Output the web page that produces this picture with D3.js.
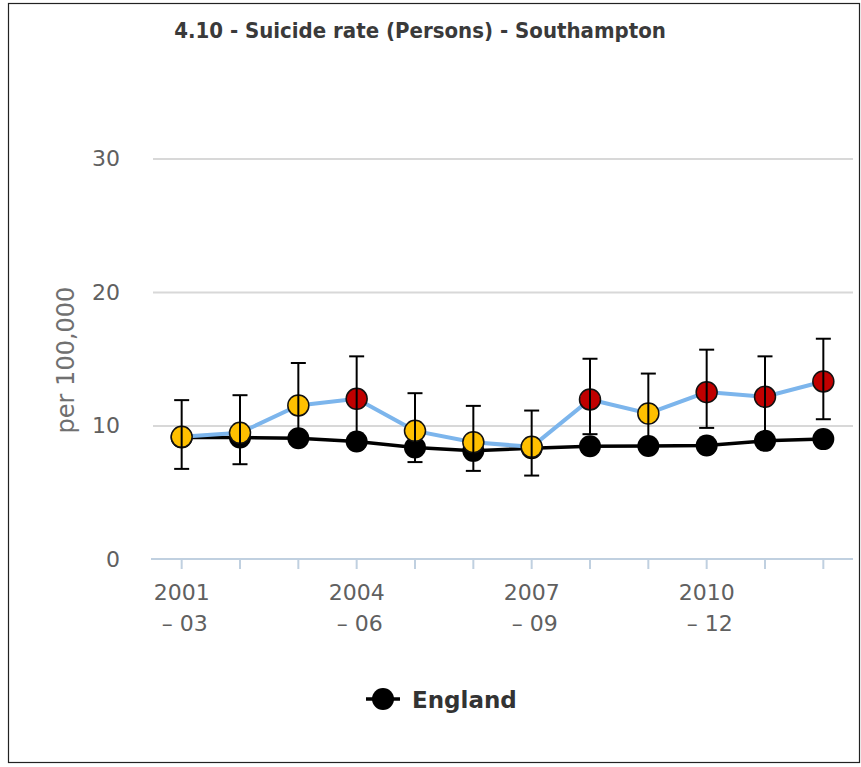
<!DOCTYPE html>
<html>
<head>
<meta charset="utf-8">
<script src="https://cdn.jsdelivr.net/npm/d3@7/dist/d3.min.js"></script>
<style>
  html, body { margin: 0; padding: 0; background: #fff; }
  svg { display: block; }
</style>
</head>
<body>
<svg id="chart" width="861" height="767"></svg>
<script>
// Three-year periods
const periods = ["2001 - 03", "2002 - 04", "2003 - 05", "2004 - 06", "2005 - 07", "2006 - 08",
                 "2007 - 09", "2008 - 10", "2009 - 11", "2010 - 12", "2011 - 13", "2012 - 14"];
// Only every third period carries a label on the axis
const tickLabels = ["2001 - 03", "2004 - 06", "2007 - 09", "2010 - 12"];

// Southampton: rate per 100,000 with 95% confidence limits
const southampton = [9.15, 9.45, 11.5, 12.0, 9.6, 8.75, 8.4, 11.95, 10.9, 12.5, 12.15, 13.3];
const lowerCI     = [6.75, 7.1, 8.8, 9.1, 7.26, 6.6, 6.25, 9.35, 8.4, 9.82, 9.1, 10.47];
const upperCI     = [11.9, 12.27, 14.68, 15.18, 12.42, 11.47, 11.12, 15.0, 13.89, 15.68, 15.18, 16.5];
// Comparison with England: "similar" or "higher"
const significance = ["similar", "similar", "similar", "higher", "similar", "similar",
                      "similar", "higher", "similar", "higher", "higher", "higher"];

// England rate per 100,000
const england = [9.1, 9.1, 9.05, 8.8, 8.35, 8.1, 8.3, 8.45, 8.47, 8.5, 8.85, 8.98];

const yTicks = [0, 10, 20, 30];

const sigColour = { similar: "#FFC000", higher: "#C00000" };

const svg = d3.select("#chart");

// Frame
svg.append("rect")
  .attr("x", 8.5).attr("y", 3.5)
  .attr("width", 851).attr("height", 759)
  .attr("fill", "none").attr("stroke", "#222").attr("stroke-width", 1.2);

const x = d3.scaleBand().domain(periods).range([152.5, 852.5]).padding(0);
const cx = d => x(d) + x.bandwidth() / 2;
const y = d3.scaleLinear().domain([0, 30]).range([559, 158.5]);

// Title
svg.append("text")
  .attr("x", 420).attr("y", 38)
  .attr("text-anchor", "middle")
  .style("font-family", "'DejaVu Sans Condensed', 'DejaVu Sans', sans-serif")
  .style("font-weight", "bold")
  .style("font-size", "22px")
  .attr("fill", "#3a3a3a")
  .text("4.10 - Suicide rate (Persons) - Southampton");

// Grid lines and y-axis labels
const yAxis = d3.axisLeft(y).tickValues(yTicks).tickSize(-(853 - 153)).tickPadding(33);
const yG = svg.append("g").attr("transform", "translate(153,0)").call(yAxis);
yG.select(".domain").remove();
yG.selectAll(".tick line")
  .attr("stroke", d => d === 0 ? "none" : "#D8D8D8")
  .attr("stroke-width", 2);
yG.selectAll(".tick text")
  .attr("fill", "#606060")
  .style("font-family", "'DejaVu Sans', sans-serif")
  .style("font-size", "22px");

// y-axis title
svg.append("text")
  .attr("transform", "translate(74,360) rotate(-90)")
  .attr("text-anchor", "middle")
  .style("font-family", "'DejaVu Sans', sans-serif")
  .style("font-size", "24px")
  .attr("fill", "#707070")
  .text("per 100,000");

// x-axis
const xAxis = d3.axisBottom(x).tickSize(10).tickSizeOuter(0).tickFormat(() => "");
const xG = svg.append("g").attr("transform", "translate(0,559)").call(xAxis);
xG.select(".domain").attr("stroke", "#C0D0E0").attr("stroke-width", 2)
  .attr("d", "M151,0H853");
xG.selectAll(".tick line").attr("stroke", "#C0D0E0").attr("stroke-width", 2);

// Two-line period labels
const lbl = svg.append("g")
  .style("font-family", "'DejaVu Sans', sans-serif")
  .style("font-size", "22px")
  .attr("fill", "#606060")
  .attr("text-anchor", "middle");
tickLabels.forEach(p => {
  const [a, b] = p.split(" - ");
  const t = lbl.append("text").attr("x", cx(p)).attr("y", 600);
  t.append("tspan").attr("x", cx(p)).text(a);
  t.append("tspan").attr("x", cx(p) + 3).attr("dy", 31).text("\u2013 " + b);
});

const line = d3.line().x((d, i) => cx(periods[i])).y(d => y(d));

// England series
svg.append("path")
  .datum(england)
  .attr("d", line)
  .attr("fill", "none").attr("stroke", "#000").attr("stroke-width", 3.5);
svg.append("g").selectAll("circle")
  .data(england).join("circle")
  .attr("cx", (d, i) => cx(periods[i])).attr("cy", d => y(d))
  .attr("r", 11).attr("fill", "#000");

// Southampton series
svg.append("path")
  .datum(southampton)
  .attr("d", line)
  .attr("fill", "none").attr("stroke", "#7CB5EC").attr("stroke-width", 4);
svg.append("g").selectAll("circle")
  .data(southampton).join("circle")
  .attr("cx", (d, i) => cx(periods[i])).attr("cy", d => y(d))
  .attr("r", 10.5)
  .attr("fill", (d, i) => sigColour[significance[i]])
  .attr("stroke", "#111").attr("stroke-width", 1.5);

// Confidence interval whiskers
const eb = svg.append("g").attr("stroke", "#000").attr("stroke-width", 2).attr("fill", "none");
periods.forEach((p, i) => {
  const xc = cx(p), capW = 7.5;
  eb.append("line").attr("x1", xc).attr("x2", xc).attr("y1", y(lowerCI[i])).attr("y2", y(upperCI[i]));
  eb.append("line").attr("x1", xc - capW).attr("x2", xc + capW).attr("y1", y(upperCI[i])).attr("y2", y(upperCI[i]));
  eb.append("line").attr("x1", xc - capW).attr("x2", xc + capW).attr("y1", y(lowerCI[i])).attr("y2", y(lowerCI[i]));
});

// Legend
const lg = svg.append("g").attr("transform", "translate(366,699)");
lg.append("line").attr("x1", 0).attr("x2", 34).attr("y1", 0).attr("y2", 0)
  .attr("stroke", "#000").attr("stroke-width", 3.5);
lg.append("circle").attr("cx", 17).attr("cy", 0).attr("r", 11).attr("fill", "#000");
lg.append("text")
  .attr("x", 46).attr("y", 9)
  .style("font-family", "'DejaVu Sans', sans-serif")
  .style("font-weight", "bold")
  .style("font-size", "23px")
  .attr("fill", "#333")
  .text("England");
</script>
</body>
</html>
